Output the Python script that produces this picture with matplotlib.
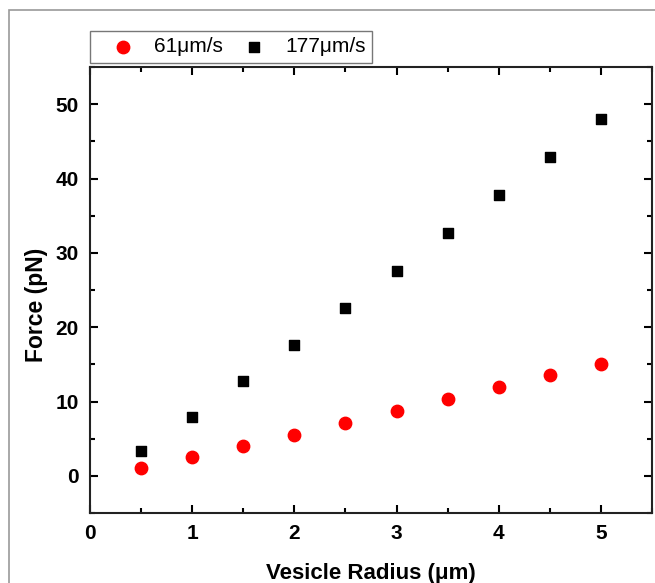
import matplotlib
matplotlib.use("Agg")
import matplotlib.pyplot as plt
from matplotlib.patches import Rectangle
from matplotlib.ticker import MultipleLocator

plt.rcParams['font.family'] = ['Liberation Sans', 'DejaVu Sans']

radius = [0.5, 1.0, 1.5, 2.0, 2.5, 3.0, 3.5, 4.0, 4.5, 5.0]
force_61 = [1.1, 2.5, 4.0, 5.5, 7.1, 8.7, 10.3, 11.9, 13.5, 15.1]
force_177 = [3.4, 7.9, 12.7, 17.6, 22.6, 27.6, 32.7, 37.8, 42.9, 48.0]
labels = ["61μm/s", "177μm/s"]

fig = plt.figure(figsize=(6.55, 5.83), dpi=100)
fig.patches.append(Rectangle((9/655, -0.1), 1.2, (583-10)/583 + 0.1,
                             transform=fig.transFigure, fill=False,
                             edgecolor='#999999', lw=1.2))
ax = fig.add_axes([90/655, 70/583, 562/655, 446/583])

ax.scatter(radius, force_61, s=80, marker='o', color='#ff0000', label=labels[0], zorder=3)
ax.scatter(radius, force_177, s=55, marker='s', color='black', label=labels[1], zorder=3)

ax.set_xlim(0, 5.5)
ax.set_ylim(-5, 55)
ax.xaxis.set_major_locator(MultipleLocator(1))
ax.xaxis.set_minor_locator(MultipleLocator(0.5))
ax.yaxis.set_major_locator(MultipleLocator(10))
ax.yaxis.set_minor_locator(MultipleLocator(5))
ax.tick_params(which='both', direction='in', top=True, right=True, width=1.5, labelsize=15)
ax.tick_params(which='major', length=6, pad=8)
ax.tick_params(which='minor', length=3.5)
for lab in ax.get_xticklabels() + ax.get_yticklabels():
    lab.set_fontweight('bold')
for sp in ax.spines.values():
    sp.set_linewidth(1.5)
    sp.set_color('#222222')

ax.set_xlabel("Vesicle Radius (μm)", fontsize=16, fontweight='bold', labelpad=14)
ax.set_ylabel("Force (pN)", fontsize=16.5, fontweight='bold')
ax.yaxis.set_label_coords(-0.075, 0.466)

leg = ax.legend(loc='lower left', bbox_to_anchor=(0.0, 1.01), ncol=2, frameon=True,
                fancybox=False, edgecolor='#555555', fontsize=15,
                handletextpad=0.2, columnspacing=0.25, borderpad=0.3,
                borderaxespad=0.0, handlelength=2.55)
leg.get_frame().set_linewidth(1.0)

fig.savefig("out.png", dpi=100)
